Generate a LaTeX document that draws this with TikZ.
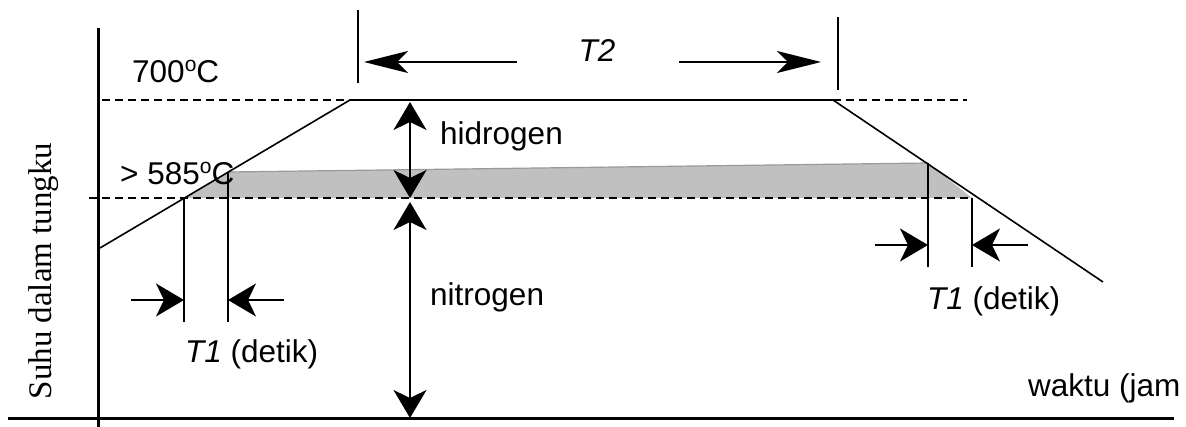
\documentclass[tikz,border=0pt]{standalone}
\usepackage{fontspec}
\setmainfont{Liberation Sans}
\newfontfamily\serifface{Liberation Serif}
\usetikzlibrary{arrows.meta}
\definecolor{bandgray}{HTML}{C0C0C0}
\definecolor{bandedge}{HTML}{9A9A9A}
\newcommand{\degsup}{\raisebox{11pt}{\fontsize{21}{21}\selectfont o}}
\begin{document}
\begin{tikzpicture}[x=1pt,y=-1pt,
  axisline/.style={line width=3pt},
  thinline/.style={line width=1.6pt},
  dashline/.style={line width=1.6pt,dash pattern=on 8pt off 5pt},
  bigtip/.style={-{Stealth[length=28pt,width=33pt,inset=8pt]}},
  dbltip/.style={{Stealth[length=28pt,width=33pt,inset=8pt]}-{Stealth[length=28pt,width=33pt,inset=8pt]}},
  longtip/.style={-{Stealth[length=44pt,width=22pt,inset=11pt]}},
  lbl/.style={inner sep=0pt,font=\fontsize{31.5}{36}\selectfont},
]
\useasboundingbox (0,0) rectangle (1186,427);
% key points
\coordinate (ytop) at (98,28);
\coordinate (ybot) at (98,427);
\coordinate (xl) at (8,418);
\coordinate (xr) at (1174,418);
\coordinate (start) at (100,248);
\coordinate (p1) at (350,100);
\coordinate (p2) at (833,100);
\coordinate (stop) at (1103,282);
\coordinate (a) at (184,198);
\coordinate (b) at (228,172);
\coordinate (c) at (928,163);
\coordinate (d) at (972,198);
% gray band
\fill[bandgray] (a) -- (b) -- (c) -- (d) -- cycle;
\draw[bandedge,line width=1.2pt] (b) -- (c);
% dashed reference lines
\coordinate (dl) at (89,198);
\draw[dashline] (dl) -- (d);
\coordinate (ul) at (102,100);
\coordinate (ur) at (967,100);
\draw[dashline] (ul) -- (p1);
\draw[dashline] (p2) -- (ur);
% temperature profile
\draw[thinline] (start) -- (p1) -- (p2) -- (stop);
% axes
\draw[axisline] (ytop) -- (ybot);
\draw[axisline] (xl) -- (xr);
% T1 extension lines
\coordinate (a2) at (184,322);
\coordinate (b2) at (228,322);
\coordinate (c2) at (928,267);
\coordinate (d2) at (972,267);
\draw[thinline] (a) -- (a2);
\draw[thinline] (b) -- (b2);
\draw[thinline] (c) -- (c2);
\draw[thinline] (d) -- (d2);
% T1 arrows left
\coordinate (la1) at (131,300);
\coordinate (la2) at (184,300);
\coordinate (lb1) at (284,300);
\coordinate (lb2) at (228,300);
\draw[thinline,bigtip] (la1) -- (la2);
\draw[thinline,bigtip] (lb1) -- (lb2);
% T1 arrows right
\coordinate (rc1) at (875,245);
\coordinate (rc2) at (928,245);
\coordinate (rd1) at (1028,245);
\coordinate (rd2) at (972,245);
\draw[thinline,bigtip] (rc1) -- (rc2);
\draw[thinline,bigtip] (rd1) -- (rd2);
% T2
\coordinate (t2l1) at (358,10);
\coordinate (t2l2) at (358,83);
\coordinate (t2r1) at (838,17);
\coordinate (t2r2) at (838,90);
\draw[thinline] (t2l1) -- (t2l2);
\draw[thinline] (t2r1) -- (t2r2);
\coordinate (t2a1) at (517,62);
\coordinate (t2a2) at (364,62);
\coordinate (t2b1) at (679,62);
\coordinate (t2b2) at (821,62);
\draw[thinline,longtip] (t2a1) -- (t2a2);
\draw[thinline,longtip] (t2b1) -- (t2b2);
% hydrogen / nitrogen arrows
\coordinate (h1) at (410,102);
\coordinate (h2) at (410,198);
\coordinate (n1) at (410,202);
\coordinate (n2) at (410,418);
\draw[thinline,dbltip] (h1) -- (h2);
\draw[thinline,dbltip] (n1) -- (n2);
% labels
\node[lbl,anchor=base west] (l700) at (132,83) {700\degsup C};
\node[lbl,anchor=base west] (l585) at (120,185) {> 585\degsup C};
\node[lbl,anchor=base] (lT2) at (597,62) {\itshape T2};
\node[lbl,anchor=base west] (lhid) at (440,145) {hidrogen};
\node[lbl,anchor=base west] (lnit) at (430,306) {nitrogen};
\node[lbl,anchor=base west] (lT1a) at (185,363) {\itshape T1\/\upshape{} (detik)};
\node[lbl,anchor=base west] (lT1b) at (927,310) {\itshape T1\/\upshape{} (detik)};
\node[lbl,anchor=base west] (lwak) at (1028,397) {waktu (jam};
\node[inner sep=0pt,rotate=90,font=\serifface\fontsize{33}{38}\selectfont] (lsuhu) at (44,271) {Suhu dalam tungku};
\end{tikzpicture}
\end{document}
